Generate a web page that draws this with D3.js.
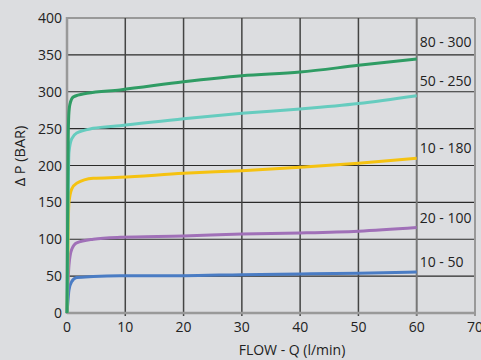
<!DOCTYPE html>
<html>
<head>
<meta charset="utf-8">
<script src="https://cdn.jsdelivr.net/npm/d3@7"></script>
<style>
  html, body { margin: 0; padding: 0; background: #dcdde0; }
  svg { display: block; font-family: "Open Sans", sans-serif; }
</style>
</head>
<body>
<script>
// flow (l/min) sample points for each curve
const flowA = [0, 0.1, 0.2, 0.34, 0.8, 1.66, 4.5, 9.1, 20, 30, 40, 50, 60];

const series = ["10 - 50", "20 - 100", "10 - 180", "50 - 250", "80 - 300"];
const colors = ["#4a7cc4", "#a070b8", "#f5c211", "#66ccbf", "#2f9c64"];

const p10_50   = [0, 10, 20, 31, 42.5, 48, 49.4, 50.4, 50.6, 52, 53, 53.8, 55.6];
const p20_100  = [0, 20, 45, 65, 86, 95, 100, 102.6, 104.4, 107, 108.5, 111, 116];
const p10_180  = [0, 40, 110, 150, 168, 176, 182.6, 184, 189.4, 193, 197.5, 203, 209.7];
const p50_250  = [0, 60, 160, 218, 236, 244, 250.4, 254, 263.5, 270.7, 276.6, 284, 294.6];
const flowG    = [0, 0.1, 0.2, 0.3, 0.5, 1.1, 3.4, 9.1, 20, 30, 40, 50, 60];
const p80_300  = [0, 120, 230, 268, 283, 293, 298, 302.5, 313.6, 321.8, 326.8, 335.8, 344.4];

// label anchor (in bar) for each curve name
const labelAt = [62, 122, 217, 308, 361];

const xTicks = [0, 10, 20, 30, 40, 50, 60, 70];
const yTicks = [0, 50, 100, 150, 200, 250, 300, 350, 400];

const width = 481, height = 360;
const margin = {left: 67, right: 6, top: 18, bottom: 47};

const x = d3.scaleLinear().domain([0, 70]).range([margin.left, width - margin.right]);
const y = d3.scaleLinear().domain([0, 400]).range([height - margin.bottom, margin.top]);

const svg = d3.select("body").append("svg")
  .attr("width", width)
  .attr("height", height);

// horizontal grid
svg.append("g")
  .selectAll("line")
  .data(yTicks.slice(1))
  .join("line")
  .attr("x1", x(0)).attr("x2", x(70))
  .attr("y1", d => y(d)).attr("y2", d => y(d))
  .attr("stroke", d => d === 400 ? "#999" : "#2a2a2a")
  .attr("stroke-width", d => d === 400 ? 2 : 1.2);

// vertical grid
svg.append("g")
  .selectAll("line")
  .data(xTicks.slice(1))
  .join("line")
  .attr("x1", d => x(d)).attr("x2", d => x(d))
  .attr("y1", y(400)).attr("y2", y(0) + 3)
  .attr("stroke", d => d === 70 ? "#999" : d === 60 ? "#777" : "#444")
  .attr("stroke-width", d => d >= 60 ? 2 : 1.5);

// axis lines
svg.append("line")
  .attr("x1", x(0)).attr("x2", x(0))
  .attr("y1", y(400) - 1).attr("y2", y(0) + 1)
  .attr("stroke", "#999").attr("stroke-width", 2.5);
svg.append("line")
  .attr("x1", x(0)).attr("x2", x(70) + 1)
  .attr("y1", y(0)).attr("y2", y(0))
  .attr("stroke", "#999").attr("stroke-width", 2.5);

// tick labels
svg.append("g")
  .selectAll("text")
  .data(yTicks)
  .join("text")
  .attr("x", x(0) - 5)
  .attr("y", d => y(d))
  .attr("dy", "0.36em")
  .attr("text-anchor", "end")
  .attr("font-size", 14)
  .attr("fill", "#222")
  .text(d => d);

svg.append("g")
  .selectAll("text")
  .data(xTicks)
  .join("text")
  .attr("x", d => x(d))
  .attr("y", y(0) + 19)
  .attr("text-anchor", "middle")
  .attr("font-size", 14)
  .attr("fill", "#222")
  .text(d => d);

// curves
const curves = [
  {flow: flowA, p: p10_50},
  {flow: flowA, p: p20_100},
  {flow: flowA, p: p10_180},
  {flow: flowA, p: p50_250},
  {flow: flowG, p: p80_300}
];

const line = d3.line()
  .x(d => x(d[0]))
  .y(d => y(d[1]))
  .curve(d3.curveMonotoneX);

svg.append("g")
  .selectAll("path")
  .data(curves)
  .join("path")
  .attr("d", c => line(c.flow.map((f, i) => [f, c.p[i]])))
  .attr("fill", "none")
  .attr("stroke", (c, i) => colors[i])
  .attr("stroke-width", 3)
  .attr("stroke-linejoin", "round");

// curve names
svg.append("g")
  .selectAll("text")
  .data(series)
  .join("text")
  .attr("x", x(60) + 3)
  .attr("y", (d, i) => y(labelAt[i]))
  .attr("font-size", 14)
  .attr("fill", "#222")
  .text(d => d);

// axis titles
svg.append("text")
  .attr("transform", `translate(25, 156) rotate(-90)`)
  .attr("text-anchor", "middle")
  .attr("font-size", 14.5)
  .attr("fill", "#222")
  .text("Δ P (BAR)");

svg.append("text")
  .attr("x", 292)
  .attr("y", 355)
  .attr("text-anchor", "middle")
  .attr("font-size", 14)
  .attr("fill", "#222")
  .text("FLOW - Q (l/min)");
</script>
</body>
</html>
